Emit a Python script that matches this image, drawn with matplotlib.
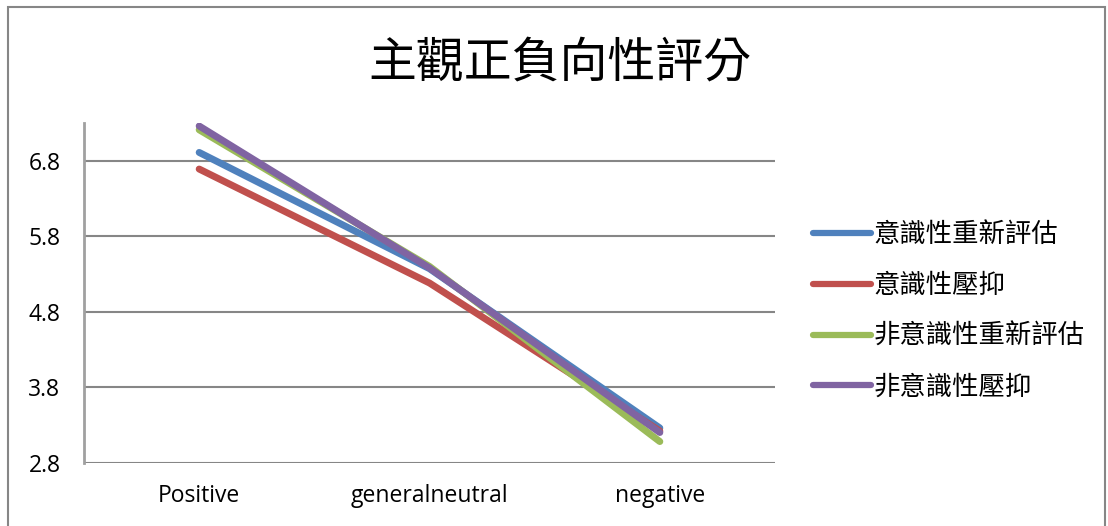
import matplotlib as mpl
mpl.use('Agg')
import matplotlib.pyplot as plt
from matplotlib.patches import Rectangle

plt.rcParams['font.family'] = ['Noto Sans CJK TC', 'DejaVu Sans']

# subjective valence ratings per stimulus category
categories = ['Positive', 'generalneutral', 'negative']
series_names = ['意識性重新評估', '意識性壓抑', '非意識性重新評估', '非意識性壓抑']
conscious_reappraisal = [6.91, 5.37, 3.26]
conscious_suppression = [6.69, 5.18, 3.22]
nonconscious_reappraisal = [7.21, 5.40, 3.08]
nonconscious_suppression = [7.26, 5.38, 3.20]
series = [conscious_reappraisal, conscious_suppression,
          nonconscious_reappraisal, nonconscious_suppression]
colors = ['#4F81BD', '#C0504D', '#9BBB59', '#8064A2']
yticks = [2.8, 3.8, 4.8, 5.8, 6.8]

W, H = 1108, 526
fig = plt.figure(figsize=(W / 100, H / 100), dpi=100)

# chart frame
fig.patches.append(Rectangle((8 / W, -0.1), (1105 - 8) / W, 1.1 - 7 / H,
                             transform=fig.transFigure, fill=False,
                             edgecolor='#868686', lw=1.5))

ax = fig.add_axes([84 / W, 1 - 462.7 / H, (775 - 84) / W, (462.7 - 123) / H])
x = range(len(categories))
for vals, name, c in zip(series, series_names, colors):
    ax.plot(x, vals, color=c, lw=5, solid_capstyle='round', label=name)

ax.set_xlim(-0.5, 2.5)
ax.set_ylim(2.8, 7.3)
ax.set_yticks(yticks)
ax.set_yticklabels(['%.1f' % v for v in yticks], family='Open Sans', fontsize=16.5)
ax.set_xticks(list(x))
ax.set_xticklabels(categories, family='Open Sans', fontsize=16.5)
ax.tick_params(axis='both', length=0)
ax.tick_params(axis='y', pad=17)
ax.tick_params(axis='x', pad=15)
for v in yticks:
    ax.axhline(v, color='#868686', lw=1.5, zorder=0)
for s in ['top', 'right', 'bottom']:
    ax.spines[s].set_visible(False)
ax.spines['left'].set_color('#A0A0A0')
ax.spines['left'].set_linewidth(2)

fig.text(560 / W, 1 - 63 / H, '主觀正負向性評分', ha='center', va='center',
         fontsize=34.5)

leg = ax.legend(loc='center left', bbox_to_anchor=(813 / W, 1 - 311 / H),
                bbox_transform=fig.transFigure, frameon=False,
                borderpad=0, borderaxespad=0,
                fontsize=19, handlelength=2.2, handletextpad=0.1,
                labelspacing=0.9)
for line in leg.get_lines():
    line.set_linewidth(4.5)

fig.savefig('out.png', dpi=100)
